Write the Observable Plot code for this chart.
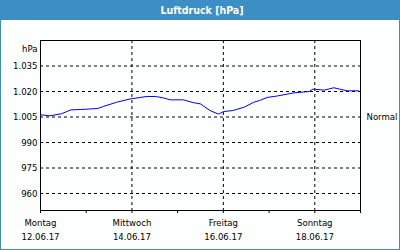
<!DOCTYPE html>
<html>
<head>
<meta charset="utf-8">
<script src="https://cdn.jsdelivr.net/npm/d3@7"></script>
<script src="https://cdn.jsdelivr.net/npm/@observablehq/plot@0.6"></script>
<style>
  html, body { margin: 0; padding: 0; background: #fff; }
  #wrap { width: 400px; height: 250px; box-sizing: border-box; border: 1px solid #3c8ec4; border-top: none; background: #fdfffe; overflow: hidden; }
  #title { height: 20px; margin: 0 -1px; background: #3c8ec4; color: #fff; font: bold 10.5px "DejaVu Sans Condensed", "DejaVu Sans", sans-serif; text-align: center; line-height: 20px; padding-left: 4px; }
  svg { display: block; overflow: visible; }
</style>
</head>
<body>
<div id="wrap"><div id="title">Luftdruck [hPa]</div></div>
<script>
const times = [
  "2017-06-12T00:00Z","2017-06-12T05:00Z","2017-06-12T11:00Z","2017-06-12T16:00Z","2017-06-12T21:00Z",
  "2017-06-13T06:00Z","2017-06-13T09:00Z","2017-06-13T16:00Z","2017-06-13T23:00Z",
  "2017-06-14T08:00Z","2017-06-14T13:00Z","2017-06-14T17:00Z","2017-06-14T20:00Z",
  "2017-06-15T03:00Z","2017-06-15T08:00Z","2017-06-15T12:00Z","2017-06-15T17:00Z","2017-06-15T21:00Z","2017-06-15T22:00Z",
  "2017-06-16T00:00Z","2017-06-16T05:00Z","2017-06-16T11:00Z","2017-06-16T16:00Z","2017-06-16T19:00Z","2017-06-16T23:00Z",
  "2017-06-17T04:00Z","2017-06-17T13:00Z","2017-06-17T21:00Z","2017-06-17T23:00Z",
  "2017-06-18T05:00Z","2017-06-18T10:00Z","2017-06-18T13:00Z","2017-06-18T17:00Z","2017-06-18T23:00Z"
];
const pressure = [
  1006.3, 1005.7, 1006.9, 1009.2, 1009.4,
  1010.0, 1011.2, 1013.7, 1015.6,
  1017.1, 1017.0, 1016.1, 1015.1,
  1015.1, 1013.5, 1012.7, 1008.8, 1006.9, 1006.9,
  1008.2, 1008.8, 1010.8, 1013.7, 1014.7, 1016.5,
  1017.3, 1019.2, 1020.0, 1021.4,
  1020.8, 1022.2, 1021.4, 1020.4, 1020.4
];
const yTicks = [960, 975, 990, 1005, 1020, 1035];
const labelDates = ["2017-06-12", "2017-06-14", "2017-06-16", "2017-06-18"];
const weekdays = ["Montag", "Mittwoch", "Freitag", "Sonntag"];
const dateLabels = ["12.06.17", "14.06.17", "16.06.17", "18.06.17"];
const gridDates = ["2017-06-14", "2017-06-16", "2017-06-18"];
const dayTicks = ["2017-06-12","2017-06-13","2017-06-14","2017-06-15","2017-06-16","2017-06-17","2017-06-18","2017-06-19"];
const normalLabel = "Normal";
const normalValue = 1005;
const unitLabel = "hPa";

const data = times.map((t, i) => ({ t: new Date(t), p: pressure[i] }));
const lblD = labelDates.map(d => new Date(d));
const wdMap = new Map(lblD.map((d, i) => [+d, weekdays[i]]));
const dtMap = new Map(lblD.map((d, i) => [+d, dateLabels[i]]));
const fmt = v => v.toLocaleString("de-DE");
const font = '"DejaVu Sans Condensed", "DejaVu Sans", sans-serif';

const chart = Plot.plot({
  width: 398, height: 229,
  marginLeft: 39, marginRight: 39, marginTop: 20, marginBottom: 39,
  style: { fontFamily: font, fontSize: "9.5px", color: "#000", background: "transparent" },
  x: { type: "utc", domain: [new Date(dayTicks[0]), new Date(dayTicks[dayTicks.length - 1])] },
  y: { domain: [950, 1050] },
  marks: [
    Plot.gridY(yTicks, { stroke: "#000", strokeOpacity: 1, strokeDasharray: "3,3" }),
    Plot.gridX(gridDates.map(d => new Date(d)), { stroke: "#000", strokeOpacity: 1, strokeDasharray: "3,3" }),
    Plot.axisY(yTicks, { tickSize: 0, tickPadding: 3, tickFormat: fmt, label: null, fill: "#000" }),
    Plot.axisX(dayTicks.map(d => new Date(d)), { tickSize: 3, tickFormat: () => "", label: null, stroke: "#000" }),
    Plot.axisX(lblD, { tickSize: 0, tickPadding: 9, tickFormat: d => wdMap.get(+d), label: null, fill: "#000" }),
    Plot.axisX(lblD, { tickSize: 0, tickPadding: 23, tickFormat: d => dtMap.get(+d), label: null, fill: "#000" }),
    Plot.line(data, { x: "t", y: "p", stroke: "#0000ff", strokeWidth: 1 }),
    Plot.frame({ stroke: "#000" }),
    Plot.text([unitLabel], { frameAnchor: "top-left", text: d => d, textAnchor: "end", dx: -3, dy: 5, fill: "#000" }),
    Plot.text([normalValue], { y: d => d, frameAnchor: "right", text: () => normalLabel, textAnchor: "start", dx: 6, fill: "#000" })
  ]
});
document.getElementById("wrap").appendChild(chart);
</script>
</body>
</html>
